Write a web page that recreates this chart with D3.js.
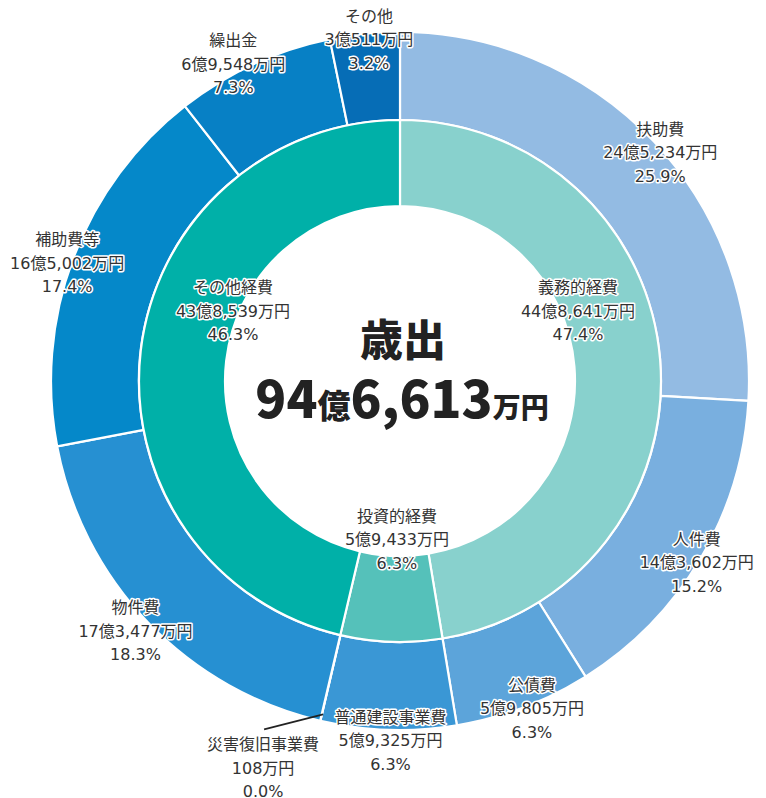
<!DOCTYPE html>
<html><head><meta charset="utf-8">
<script src="https://cdn.jsdelivr.net/npm/d3@7"></script>
<style>
html,body{margin:0;padding:0;background:#fff;}
svg{display:block;font-family:"Noto Sans CJK JP","Noto Sans",sans-serif;}
.lbl{font-family:"DejaVu Sans","Noto Sans CJK JP",sans-serif;}
</style></head>
<body>
<svg id="chart" width="766" height="798"></svg>
<script>
// ---- data (単位: 万円) ----
const innerNames  = ["義務的経費","投資的経費","その他経費"];
const innerValues = [448641, 59433, 438539];
const innerPct    = ["47.4%","6.3%","46.3%"];
const innerColors = ["#88d1cd","#55c1ba","#00b0a8"];

const outerNames  = ["扶助費","人件費","公債費","普通建設事業費","災害復旧事業費","物件費","補助費等","繰出金","その他"];
const outerValues = [245234, 143602, 59805, 59325, 108, 173477, 165002, 69548, 30511];
const outerPct    = ["25.9%","15.2%","6.3%","6.3%","0.0%","18.3%","17.4%","7.3%","3.2%"];
const outerColors = ["#93bbe3","#79afdf","#5ca4da","#3a97d5","#3a97d5","#2690d2","#0588c9","#0780c5","#066db6"];

const centerTitle = "歳出";
const totalValue = 946613;

// ---- layout ----
const cx = 400, cy = 381;
const rHole = 175, rMid = 261, rOuter = 349;
const labelR = 347;
const outerNudge = [[8,10],[-2,5],[9,3],[2,13],[0,0],[-14,10],[-8,4],[-21,-2],[4,4]];
const innerLabelPos = [[0.927,-0.365],[-0.016,0.826],[-0.87,-0.365]]; // fractions of inner labelling radius
const innerLabelR = 192;
const lineH = 23.5;

const fmt = d3.format(",");
function yen(v){
  const oku = Math.floor(v/10000), man = v % 10000;
  return (oku>0 ? oku+"億" : "") + fmt(man) + "万円";
}

const svg = d3.select("#chart");
const g = svg.append("g").attr("transform",`translate(${cx},${cy})`);

const pie = d3.pie().sort(null).value(d=>d.v);
const innerData = pie(innerNames.map((n,i)=>({n, v:innerValues[i], p:innerPct[i], c:innerColors[i]})));
const outerData = pie(outerNames.map((n,i)=>({n, v:outerValues[i], p:outerPct[i], c:outerColors[i]})));

const arcIn = d3.arc().innerRadius(rHole).outerRadius(rMid);
const arcOut = d3.arc().innerRadius(rMid).outerRadius(rOuter);

g.selectAll("path.out").data(outerData).join("path")
  .attr("class","out").attr("d",arcOut).attr("fill",d=>d.data.c)
  .attr("stroke","#fff").attr("stroke-width",2.2).attr("stroke-linejoin","round");
g.selectAll("path.in").data(innerData).join("path")
  .attr("class","in").attr("d",arcIn).attr("fill",d=>d.data.c)
  .attr("stroke","#fff").attr("stroke-width",2.2).attr("stroke-linejoin","round");

function label(x, y, lines){
  const t = g.append("text").attr("class","lbl").attr("text-anchor","middle")
    .attr("font-size",16).attr("fill","#333")
    .attr("stroke","#fff").attr("stroke-width",3).attr("stroke-linejoin","round")
    .attr("paint-order","stroke");
  lines.forEach((s,k)=>{
    t.append("tspan").attr("x",x).attr("y",y + (k-1)*lineH).attr("dy","0.35em").text(s);
  });
}

// outer labels
outerData.forEach((d,i)=>{
  const a = (d.startAngle + d.endAngle)/2;
  let x = labelR*Math.sin(a) + outerNudge[i][0];
  let y = -labelR*Math.cos(a) + outerNudge[i][1];
  const lines = [d.data.n, yen(d.data.v), d.data.p];
  if (d.data.v < 1000) {
    // tiny slice: leader line and label set outside
    const px = rOuter*0.99*Math.sin(a) + 2, py = -rOuter*0.99*Math.cos(a) - 3;
    const lx = px - 59, ly = py + 15;
    g.append("line").attr("x1",px).attr("y1",py).attr("x2",lx).attr("y2",ly)
      .attr("stroke","#222").attr("stroke-width",1.6);
    label(lx - 1, ly + 39, lines);
  } else {
    label(x, y, lines);
  }
});

// inner labels
innerData.forEach((d,i)=>{
  const x = innerLabelR*innerLabelPos[i][0], y = innerLabelR*innerLabelPos[i][1];
  label(x, y, [d.data.n, yen(d.data.v), d.data.p]);
});

// center
g.append("text").attr("text-anchor","middle").attr("x",3).attr("y",-40).attr("dy","0.35em")
  .attr("font-size",43).attr("font-weight",900).attr("fill","#222").text(centerTitle);
const oku = Math.floor(totalValue/10000), man = totalValue%10000;
const t2 = g.append("text").attr("text-anchor","middle").attr("x",2).attr("y",37)
  .attr("font-weight",900).attr("fill","#222");
t2.append("tspan").attr("font-size",51).text(oku);
t2.append("tspan").attr("font-size",33).text("億");
t2.append("tspan").attr("font-size",51).text(fmt(man));
t2.append("tspan").attr("font-size",28).text("万円");
</script>
</body></html>
